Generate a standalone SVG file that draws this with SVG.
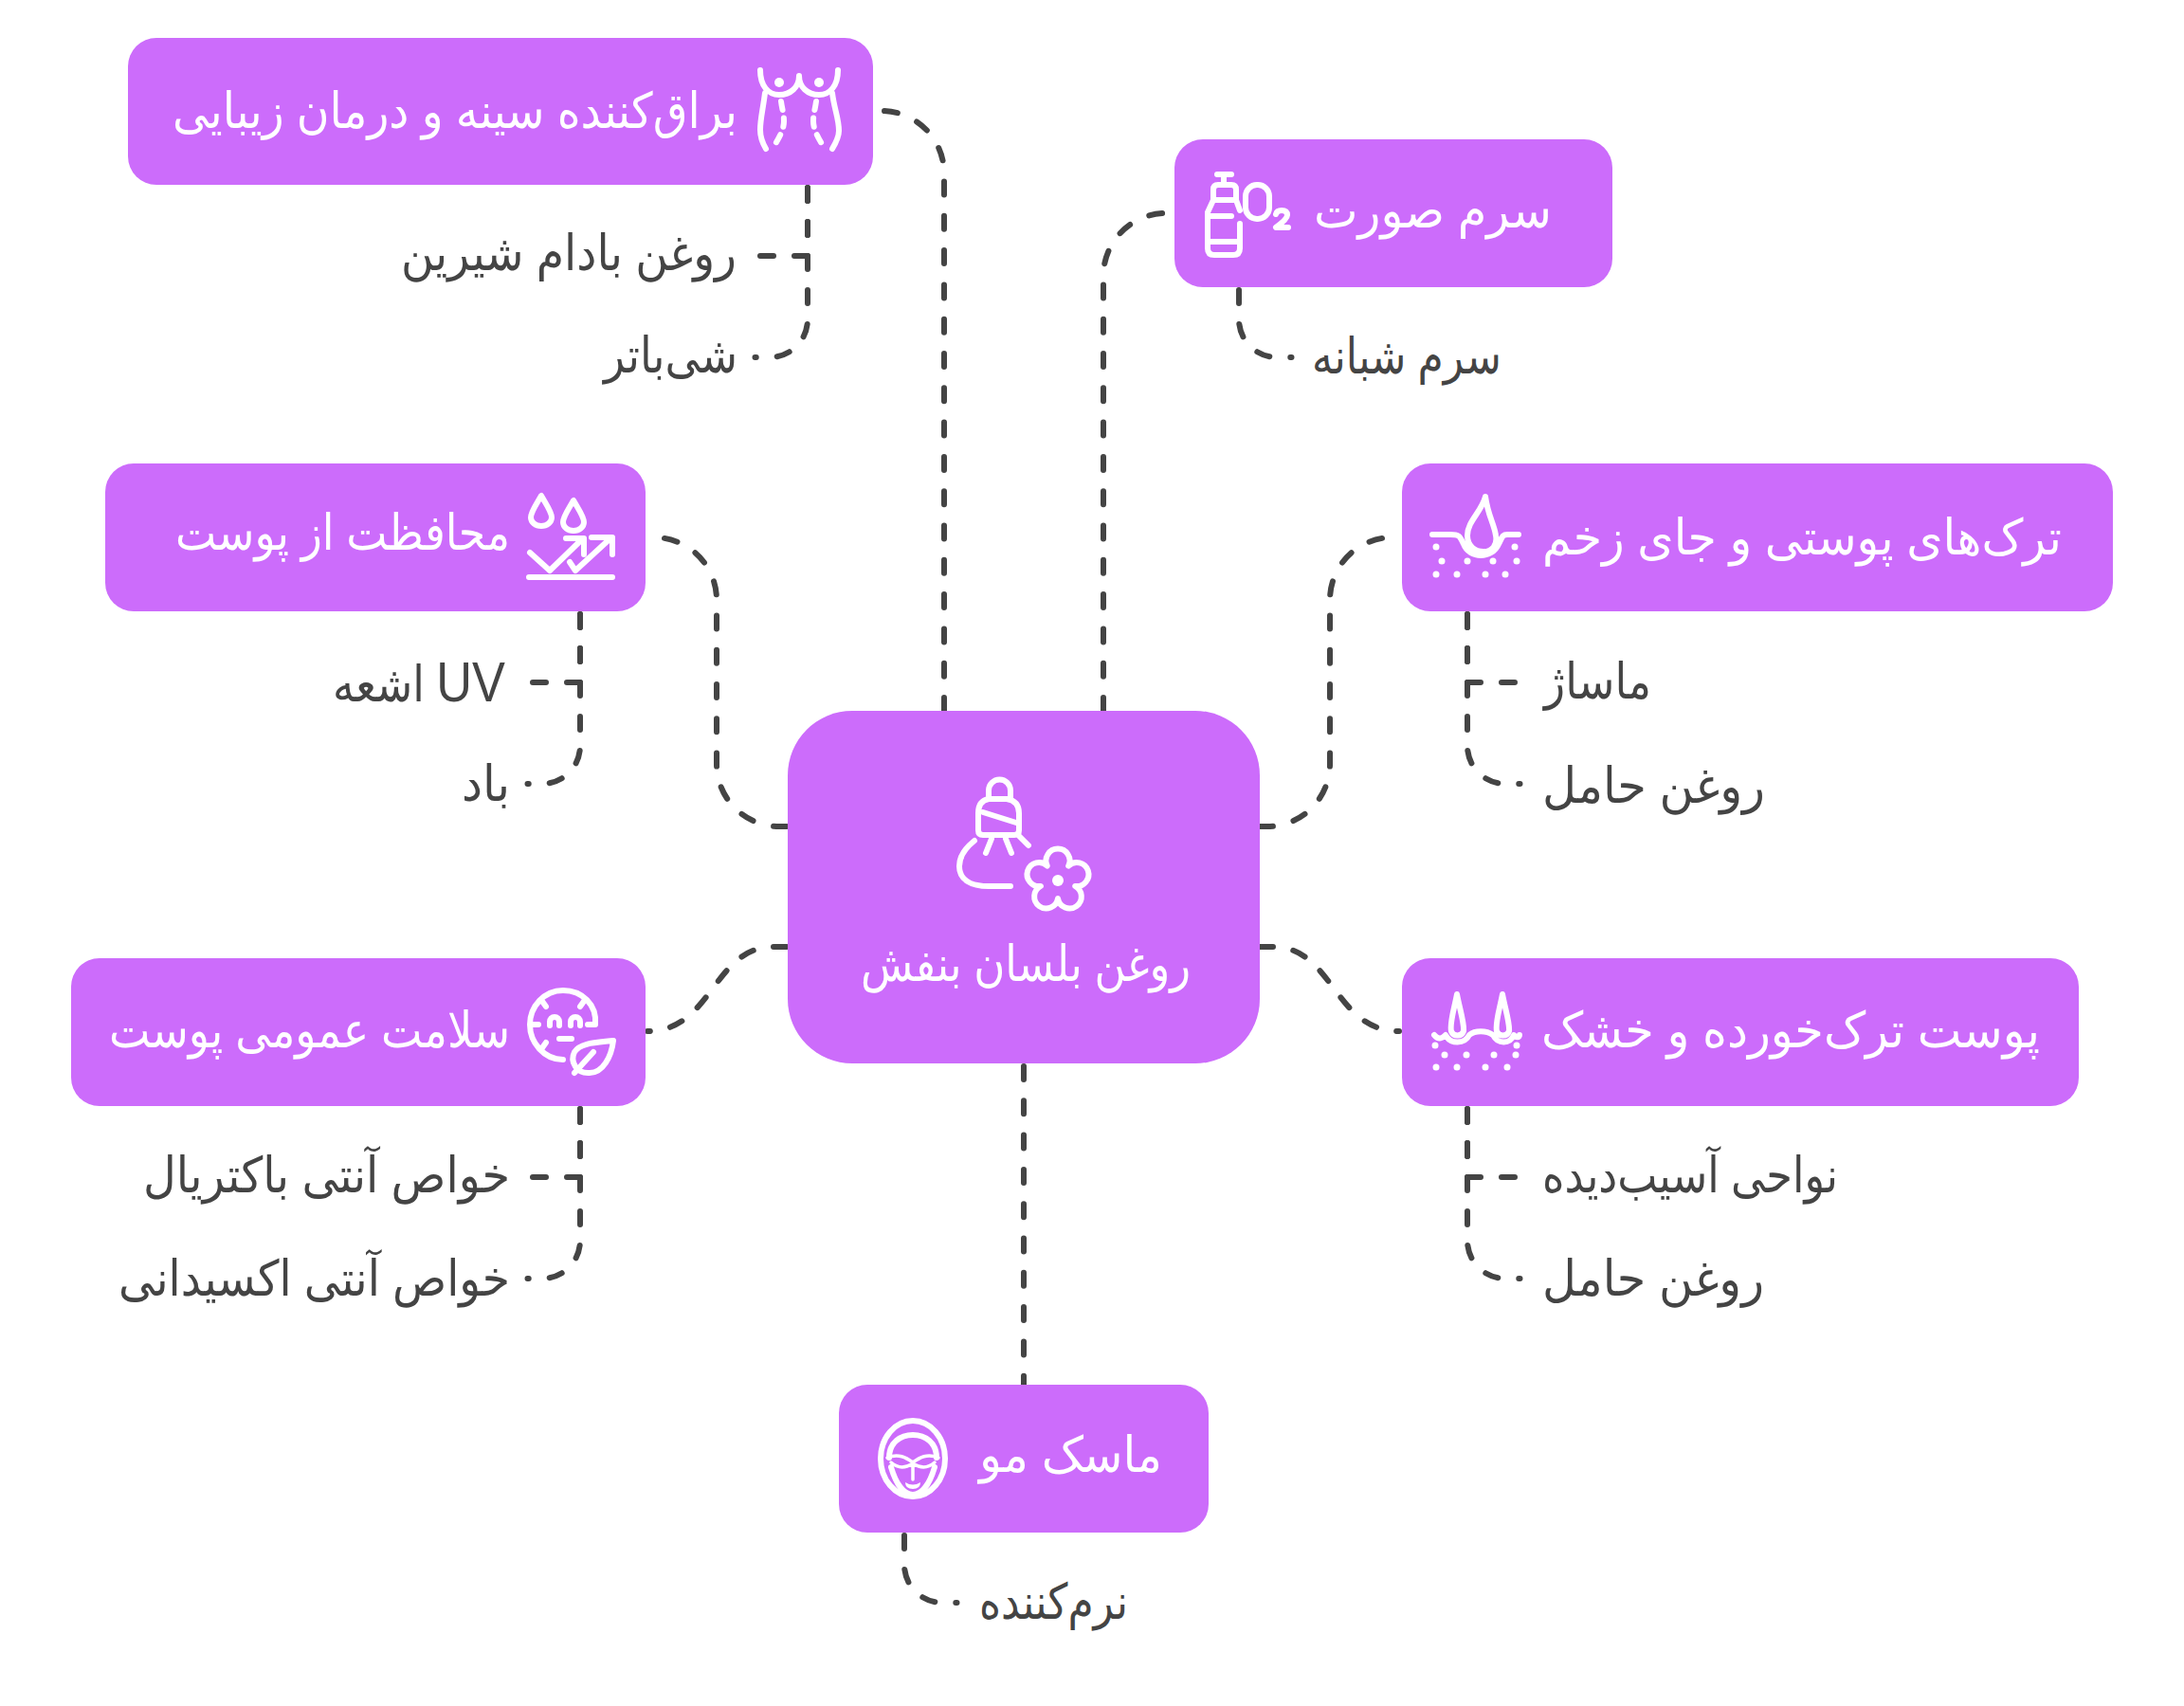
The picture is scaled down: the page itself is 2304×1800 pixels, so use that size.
<svg xmlns="http://www.w3.org/2000/svg" width="2304" height="1800" viewBox="0 0 2304 1800">
<style>
.bg{fill:#fff}
.box{fill:#CC6CFB}
.c{fill:none;stroke:#444;stroke-width:6;stroke-linecap:round;stroke-dasharray:14 22.3}
.s{fill:none;stroke:#444;stroke-width:6;stroke-linecap:round;stroke-dasharray:14 21.7}
.b{fill:none;stroke:#444;stroke-width:6;stroke-linecap:round;stroke-dasharray:14 22}
.i{fill:none;stroke:#fff;stroke-width:6;stroke-linecap:round;stroke-linejoin:round}
.f{fill:none;stroke:#fff;stroke-width:3.5;stroke-linecap:round;stroke-linejoin:round}
.d{fill:#fff}
text{font-family:"Liberation Sans","DejaVu Sans",sans-serif;font-size:52px}
.w{fill:#fff}
.k{fill:#444}
</style>
<rect class="bg" width="2304" height="1800"/>
<g id="connectors">
<path class="c" d="M996 750V183A66 66 0 0 0 930 117"/>
<path class="c" d="M1164 750V291A66 66 0 0 1 1230 225"/>
<path class="c" d="M830 872H822A66 66 0 0 1 756 806V633A66 66 0 0 0 690 567"/>
<path class="c" d="M1329 872H1337A66 66 0 0 0 1403 806V633A66 66 0 0 1 1469 567"/>
<path class="s" d="M830 999H816C752 999 752 1088 683 1088"/>
<path class="s" d="M1329 999H1343C1407 999 1407 1088 1476 1088"/>
<path class="c" d="M1080 1125V1464"/>
<path class="b" d="M852 198V270H798"/><path class="b" d="M852 198V337A40 40 0 0 1 812 377H796.5"/>
<path class="b" d="M1307 306V337A40 40 0 0 0 1347 377H1362.5"/>
<path class="b" d="M612 648V720H558"/><path class="b" d="M612 648V787A40 40 0 0 1 572 827H556.5"/>
<path class="b" d="M1548 648V720H1602"/><path class="b" d="M1548 648V787A40 40 0 0 0 1588 827H1603.5"/>
<path class="b" d="M612 1170V1242H558"/><path class="b" d="M612 1170V1309A40 40 0 0 1 572 1349H556.5"/>
<path class="b" d="M1548 1170V1242H1602"/><path class="b" d="M1548 1170V1309A40 40 0 0 0 1588 1349H1603.5"/>
<path class="b" d="M954 1620V1651A40 40 0 0 0 994 1691H1009.5"/>
</g>
<g id="center">
<rect class="box" x="831" y="750" width="498" height="372" rx="68"/>
<path class="i" d="M1043 843V834A11.5 11.5 0 0 1 1066 834V843M1043 843H1062Q1075 845 1075 858V876Q1075 881 1070 881H1037Q1032 881 1032 876V858Q1032 845 1043 843M1037 857L1072 868M1046 885L1040 900M1061 885L1067 900M1075 882L1085 892M1028 887C1018 895 1012 905 1012 914C1012 928 1024 935 1043 935H1066"/>
<path class="i" d="M1104.8 913.6A12.5 12.5 0 1 1 1127.2 913.6A12.5 12.5 0 1 1 1134.1 934.9A12.5 12.5 0 1 1 1116 948A12.5 12.5 0 1 1 1097.9 934.9A12.5 12.5 0 1 1 1104.8 913.6Z"/>
<circle class="d" cx="1116" cy="929" r="6"/>
<text class="w" x="908" y="1035" textLength="348" lengthAdjust="spacingAndGlyphs">روغن بلسان بنفش</text>
</g>
<g id="n1">
<rect class="box" x="135" y="40" width="786" height="155" rx="30"/>
<path class="i" d="M802 74C802 90 810 100 822 100C834 100 843 92 843 80C843 92 852 100 864 100C876 100 884 90 884 74M807 98C805 115 802 125 802 137C802 145 805 152 808 157M878 98C880 115 885 125 885 138C885 145 881 152 878 157"/>
<path class="i" stroke-dasharray="9 9" d="M824 107C825 115 827 120 827 128C827 138 820 148 815 157M861 107C860 115 858 120 858 128C858 138 865 148 870 157"/>
<circle class="d" cx="822" cy="87" r="5"/><circle class="d" cx="864" cy="87" r="5"/>
<text class="w" x="182" y="135" textLength="596" lengthAdjust="spacingAndGlyphs">براق‌کننده سینه و درمان زیبایی</text>
</g>
<g id="n1a"><text class="k" x="423" y="285" textLength="354" lengthAdjust="spacingAndGlyphs">روغن بادام شیرین</text></g>
<g id="n1b"><text class="k" x="637" y="393" textLength="141" lengthAdjust="spacingAndGlyphs">شی‌باتر</text></g>
<g id="n2">
<rect class="box" x="1239" y="147" width="462" height="156" rx="30"/>
<path class="i" d="M1284 184H1299M1291 184V195M1280 211V200Q1280 195 1285 195H1299Q1304 195 1304 200V211M1280 211H1304M1280 211L1274 224V262Q1274 269 1281 269H1301Q1308 269 1308 262V236M1304 211L1308 222M1274 228H1299M1274 255H1305"/>
<rect class="i" x="1314" y="195" width="25" height="36" rx="12"/>
<path class="i" stroke-width="5" d="M1346 226Q1347 222 1352 222Q1358 222 1358 227Q1358 231 1346 240H1359"/>
<text class="w" x="1386" y="240" textLength="251" lengthAdjust="spacingAndGlyphs">سرم صورت</text>
</g>
<g id="n2a"><text class="k" x="1384" y="394" textLength="200" lengthAdjust="spacingAndGlyphs">سرم شبانه</text></g>
<g id="n3">
<rect class="box" x="1479" y="489" width="750" height="156" rx="30"/>
<path class="i" d="M1567 524C1563 540 1548 550 1548 565C1548 576 1556 582 1565 582C1574 582 1580 575 1578 565C1576 552 1570 545 1567 524M1511 564H1530C1540 564 1540 566 1544 574C1550 590 1574 590 1581 574C1585 566 1585 564 1590 564H1602"/>
<g class="d"><circle cx="1515" cy="577" r="3.5"/><circle cx="1598" cy="577" r="3.5"/><circle cx="1521" cy="592" r="3.5"/><circle cx="1548" cy="592" r="3.5"/><circle cx="1575" cy="592" r="3.5"/><circle cx="1600" cy="592" r="3.5"/><circle cx="1515" cy="606" r="3.5"/><circle cx="1537" cy="606" r="3.5"/><circle cx="1567" cy="606" r="3.5"/><circle cx="1588" cy="606" r="3.5"/></g>
<text class="w" x="1627" y="585" textLength="548" lengthAdjust="spacingAndGlyphs">ترک‌های پوستی و جای زخم</text>
</g>
<g id="n3a"><text class="k" x="1629" y="737" textLength="113" lengthAdjust="spacingAndGlyphs">ماساژ</text></g>
<g id="n3b"><text class="k" x="1627" y="847" textLength="235" lengthAdjust="spacingAndGlyphs">روغن حامل</text></g>
<g id="n4">
<rect class="box" x="111" y="489" width="570" height="156" rx="30"/>
<path class="i" d="M571 523C566 532 560 540 560 546A11 9 0 0 0 582 546C582 540 576 532 571 523ZM605 528C600 537 594 545 594 551A11 9 0 0 0 616 551C616 545 610 537 605 528Z"/>
<path class="i" d="M559 583L580 602L614 569M597 568H616V585M601 593L607 602L644 568M624 567H646V585M558 609H646"/>
<text class="w" x="185" y="580" textLength="353" lengthAdjust="spacingAndGlyphs">محافظت از پوست</text>
</g>
<g id="n4a"><text class="k" x="351" y="740" textLength="182" lengthAdjust="spacingAndGlyphs">اشعه <tspan style="font-size:60px">UV</tspan></text></g>
<g id="n4b"><text class="k" x="487" y="845" textLength="51" lengthAdjust="spacingAndGlyphs">باد</text></g>
<g id="n5">
<rect class="box" x="75" y="1011" width="606" height="156" rx="30"/>
<path class="i" d="M628 1081C630 1060 614 1045 594 1045C574 1045 559 1062 559 1081C559 1100 574 1118 594 1118M571 1055L576 1062M617 1055L612 1062M560 1081H568M620 1081H628M571 1107L576 1100M580 1082V1078A5 5 0 0 1 590 1078V1082M602 1082V1078A5 5 0 0 1 612 1078V1082M590 1096H603"/>
<path class="i" d="M647 1098C630 1100 612 1100 606 1110C601 1120 608 1133 622 1132C636 1132 645 1115 647 1098ZM606 1132L626 1110"/>
<text class="w" x="115" y="1105" textLength="423" lengthAdjust="spacingAndGlyphs">سلامت عمومی پوست</text>
</g>
<g id="n5a"><text class="k" x="151" y="1258" textLength="387" lengthAdjust="spacingAndGlyphs">خواص آنتی باکتریال</text></g>
<g id="n5b"><text class="k" x="125" y="1367" textLength="413" lengthAdjust="spacingAndGlyphs">خواص آنتی اکسیدانی</text></g>
<g id="n6">
<rect class="box" x="1479" y="1011" width="714" height="156" rx="30"/>
<path class="i" d="M1537 1049C1534 1065 1529 1080 1531 1088C1533 1094 1542 1094 1544 1088C1545 1080 1540 1065 1537 1049ZM1585 1049C1582 1065 1577 1080 1579 1088C1581 1094 1590 1094 1592 1088C1593 1080 1588 1065 1585 1049ZM1513 1092C1518 1098 1522 1095 1525 1092C1530 1102 1545 1102 1550 1092C1556 1087 1568 1087 1575 1092C1580 1102 1593 1102 1597 1092C1599 1095 1603 1095 1603 1092"/>
<g class="d"><circle cx="1514" cy="1103" r="3.5"/><circle cx="1600" cy="1103" r="3.5"/><circle cx="1524" cy="1113" r="3.5"/><circle cx="1547" cy="1113" r="3.5"/><circle cx="1576" cy="1113" r="3.5"/><circle cx="1599" cy="1113" r="3.5"/><circle cx="1515" cy="1126" r="3.5"/><circle cx="1537" cy="1126" r="3.5"/><circle cx="1567" cy="1126" r="3.5"/><circle cx="1590" cy="1126" r="3.5"/></g>
<text class="w" x="1626" y="1105" textLength="526" lengthAdjust="spacingAndGlyphs">پوست ترک‌خورده و خشک</text>
</g>
<g id="n6a"><text class="k" x="1627" y="1258" textLength="312" lengthAdjust="spacingAndGlyphs">نواحی آسیب‌دیده</text></g>
<g id="n6b"><text class="k" x="1627" y="1367" textLength="234" lengthAdjust="spacingAndGlyphs">روغن حامل</text></g>
<g id="n7">
<rect class="box" x="885" y="1461" width="390" height="156" rx="30"/>
<ellipse class="i" cx="963" cy="1539" rx="34" ry="40"/>
<path class="i" d="M938 1538C938 1522 950 1514 963 1514C976 1514 988 1522 988 1538M940 1548C945 1565 953 1577 963 1577C973 1577 981 1565 986 1548"/>
<path class="f" d="M936 1538C948 1533 956 1538 963 1543C970 1538 978 1533 990 1538M940 1543Q948 1550 957 1547Q961 1546 963 1543Q965 1546 969 1547Q978 1550 986 1543M963 1546V1561"/>
<path class="d" d="M955 1564Q963 1569 971 1564Q971 1571 963 1571Q955 1571 955 1564Z"/>
<text class="w" x="1033" y="1553" textLength="193" lengthAdjust="spacingAndGlyphs">ماسک مو</text>
</g>
<g id="n7a"><text class="k" x="1033" y="1708" textLength="157" lengthAdjust="spacingAndGlyphs">نرم‌کننده</text></g>
</svg>
